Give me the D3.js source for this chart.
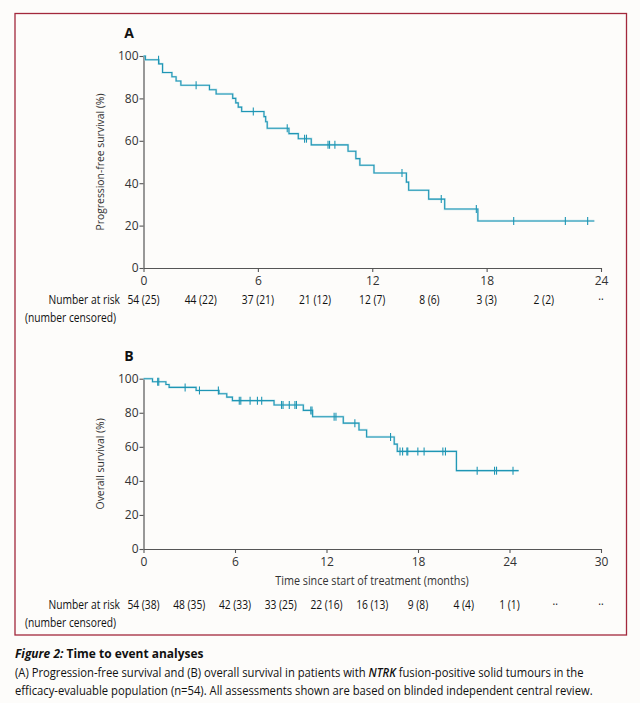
<!DOCTYPE html>
<html>
<head>
<meta charset="utf-8">
<script src="https://cdn.jsdelivr.net/npm/d3@7"></script>
<style>
  body { margin: 0; background: #fdfcfa; }
  svg { display: block; }
</style>
</head>
<body>
<div id="chart"></div>
<script>
// Panel A: progression-free survival, [time (months), survival %] after each step
const pfsSteps = [
  [0, 100], [0.1, 98.2], [0.8, 96.3], [1.0, 92.2], [1.49, 90.2], [1.71, 88.2], [1.96, 86.2],
  [3.46, 84.1], [3.81, 82.1], [4.68, 80.0], [4.84, 77.9], [4.97, 75.9], [5.15, 73.8],
  [6.32, 71.4], [6.41, 69.0], [6.49, 65.9], [7.63, 63.4], [8.12, 61.0], [8.8, 58.1],
  [10.73, 55.1], [11.14, 51.6], [11.35, 48.5], [12.09, 44.8], [13.79, 40.5], [13.91, 36.7],
  [14.96, 32.5], [15.8, 27.8], [17.54, 22.2], [23.65, 22.2]
];
const pfsCensored = [0.79, 2.76, 5.76, 7.54, 8.45, 8.55, 9.68, 9.76, 10.04, 13.56, 15.62, 17.46, 19.42, 22.13, 23.3];

// Panel B: overall survival
const osSteps = [
  [0, 100], [0.59, 98.2], [1.47, 96.6], [1.68, 94.9], [3.45, 93.1], [4.95, 91.2], [5.46, 89.2],
  [5.83, 87.1], [8.56, 84.6], [10.48, 81.4], [11.09, 77.7], [13.1, 73.9], [14.13, 69.9],
  [14.63, 65.8], [16.44, 61.6], [16.64, 57.3], [20.52, 46.0], [24.6, 46.0]
];
const osCensored = [0.93, 1.0, 2.73, 3.67, 4.91, 6.28, 6.38, 6.99, 7.47, 7.75, 9.05, 9.15, 9.56,
  9.93, 10.03, 10.97, 11.05, 12.5, 12.62, 13.86, 16.2, 16.82, 16.99, 17.27, 17.33, 17.99, 18.4,
  19.63, 19.8, 21.88, 23.02, 23.15, 24.23];

const riskTimesA = [0, 3, 6, 9, 12, 15, 18, 21, 24];
const riskLabelsA = ["54 (25)", "44 (22)", "37 (21)", "21 (12)", "12 (7)", "8 (6)", "3 (3)", "2 (2)", "··"];
const riskTimesB = [0, 3, 6, 9, 12, 15, 18, 21, 24, 27, 30];
const riskLabelsB = ["54 (38)", "48 (35)", "42 (33)", "33 (25)", "22 (16)", "16 (13)", "9 (8)", "4 (4)", "1 (1)", "··", "··"];

const ticksA = [0, 6, 12, 18, 24];
const ticksB = [0, 6, 12, 18, 24, 30];
const yTicks = [0, 20, 40, 60, 80, 100];

const W = 640, H = 703;
const lineColor = "#1f96b4";
const axisColor = "#555";
const font = "'Open Sans', sans-serif";
const narrow = 0.82;

const svg = d3.select("#chart").append("svg")
  .attr("width", W).attr("height", H)
  .style("font-family", font);

// text squeezed horizontally to mimic the condensed journal face
function narrowText(parent, x, y, k) {
  return parent.append("text").attr("transform", `translate(${x},${y}) scale(${k},1)`);
}

svg.append("rect")
  .attr("x", 15).attr("y", 13.5).attr("width", 611.5).attr("height", 621.5)
  .attr("fill", "#fdfcfa").attr("stroke", "#a3283c").attr("stroke-width", 1.3);

function panel(opts) {
  const x = d3.scaleLinear().domain([0, opts.xMax]).range([143.5, 601]);
  const y = d3.scaleLinear().domain([0, 100]).range([opts.y0, opts.y100]);
  const g = svg.append("g");

  const xAxis = g.append("g")
    .attr("transform", `translate(0,${opts.y0})`)
    .call(d3.axisBottom(x).tickValues(opts.ticks).tickSize(4).tickSizeOuter(0));
  const yAxis = g.append("g")
    .attr("transform", `translate(143.5,0)`)
    .call(d3.axisLeft(y).tickValues(yTicks).tickSize(4).tickSizeOuter(0));
  [xAxis, yAxis].forEach(a => {
    a.select(".domain").attr("stroke", axisColor).attr("stroke-width", 1.2);
    a.selectAll(".tick line").attr("stroke", axisColor).attr("stroke-width", 1.1);
    a.selectAll(".tick text").attr("fill", "#333").style("font-size", "12px")
      .style("font-family", font);
  });
  xAxis.selectAll(".tick text").attr("dy", "0.85em");
  yAxis.selectAll(".tick text").attr("x", -5);

  g.append("text")
    .attr("transform", `translate(104,${(opts.y0 + opts.y100) / 2}) rotate(-90) scale(0.9,1)`)
    .attr("text-anchor", "middle")
    .attr("fill", "#333").style("font-size", "11.5px")
    .text(opts.yLabel);

  g.append("text")
    .attr("x", 129).attr("y", opts.y100 - 18)
    .attr("text-anchor", "middle")
    .attr("fill", "#111").style("font-size", "14px").style("font-weight", "bold")
    .text(opts.letter);

  const line = d3.line()
    .curve(d3.curveStepAfter)
    .x(d => x(d[0])).y(d => y(d[1]));

  // light halo then main line
  g.append("path").datum(opts.steps)
    .attr("d", line).attr("fill", "none")
    .attr("stroke", "#9fd6e4").attr("stroke-width", 2.2).attr("opacity", 0.6);
  g.append("path").datum(opts.steps)
    .attr("d", line).attr("fill", "none")
    .attr("stroke", lineColor).attr("stroke-width", 1.1);

  const survAt = t => {
    let s = opts.steps[0][1];
    opts.steps.forEach(d => { if (d[0] <= t) s = d[1]; });
    return s;
  };
  g.selectAll("line.cens").data(opts.censored).join("line")
    .attr("class", "cens")
    .attr("x1", d => x(d)).attr("x2", d => x(d))
    .attr("y1", d => y(survAt(d)) - 4).attr("y2", d => y(survAt(d)) + 4)
    .attr("stroke", lineColor).attr("stroke-width", 1.1);

  // number at risk
  narrowText(g, 120, opts.riskY, narrow)
    .attr("text-anchor", "end").attr("fill", "#111").style("font-size", "12.5px")
    .text("Number at risk");
  narrowText(g, 25, opts.riskY + 18, narrow)
    .attr("fill", "#111").style("font-size", "12.5px")
    .text("(number censored)");
  g.selectAll("text.risk").data(opts.riskTimes).join("text")
    .attr("class", "risk")
    .attr("transform", d => `translate(${x(d)},${opts.riskY}) scale(${narrow},1)`)
    .attr("text-anchor", "middle").attr("fill", "#111").style("font-size", "12.5px")
    .text((d, i) => opts.riskLabels[i]);

  return { x, y };
}

panel({
  xMax: 24, ticks: ticksA, y0: 268, y100: 56,
  steps: pfsSteps, censored: pfsCensored,
  yLabel: "Progression-free survival (%)", letter: "A",
  riskTimes: riskTimesA, riskLabels: riskLabelsA, riskY: 304
});

panel({
  xMax: 30, ticks: ticksB, y0: 549, y100: 378.7,
  steps: osSteps, censored: osCensored,
  yLabel: "Overall survival (%)", letter: "B",
  riskTimes: riskTimesB, riskLabels: riskLabelsB, riskY: 609
});

narrowText(svg, 372, 585, 0.9)
  .attr("text-anchor", "middle").attr("fill", "#333")
  .style("font-size", "12px")
  .text("Time since start of treatment (months)");

// caption
const cap = narrowText(svg, 15, 658, 0.92)
  .attr("fill", "#111").style("font-size", "13px").style("font-weight", "bold");
cap.append("tspan").style("font-style", "italic").text("Figure 2:");
cap.append("tspan").text(" Time to event analyses");

const c1 = narrowText(svg, 15, 677, 0.9)
  .attr("fill", "#111").style("font-size", "12.5px");
c1.append("tspan").text("(A) Progression-free survival and (B) overall survival in patients with ");
c1.append("tspan").style("font-style", "italic").style("font-weight", "600").text("NTRK");
c1.append("tspan").text(" fusion-positive solid tumours in the");
narrowText(svg, 15, 695, 0.9)
  .attr("fill", "#111").style("font-size", "12.5px")
  .text("efficacy-evaluable population (n=54). All assessments shown are based on blinded independent central review.");
</script>
</body>
</html>
